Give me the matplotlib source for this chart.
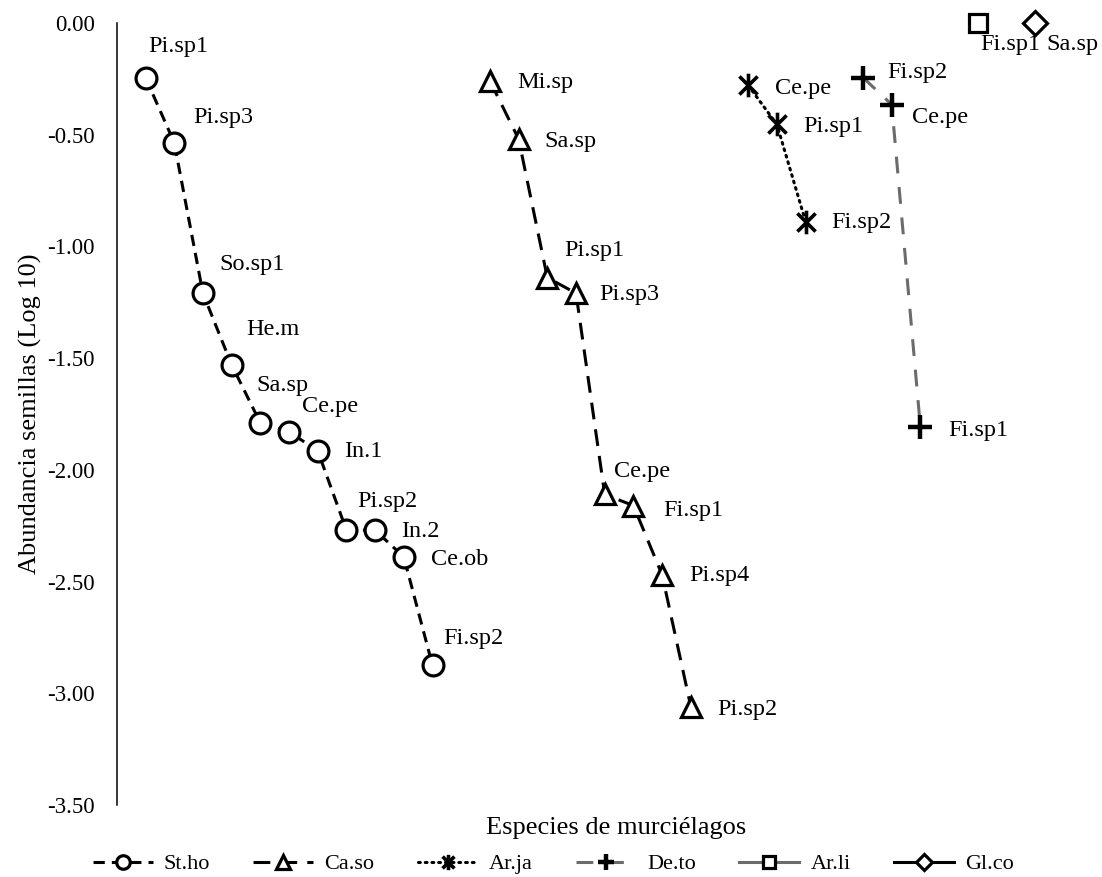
import numpy as np
import matplotlib
matplotlib.use('Agg')
import matplotlib.pyplot as plt
from matplotlib.path import Path

plt.rcParams['font.family'] = ['Liberation Serif', 'DejaVu Serif']
plt.rcParams['axes.unicode_minus'] = False

# datos: log10 de la abundancia de semillas por especie de murcielago
series = ['St.ho', 'Ca.so', 'Ar.ja', 'De.to', 'Ar.li', 'Gl.co']

stho_sp = ['Pi.sp1', 'Pi.sp3', 'So.sp1', 'He.m', 'Sa.sp', 'Ce.pe', 'In.1', 'Pi.sp2', 'In.2', 'Ce.ob', 'Fi.sp2']
stho_val = [-0.245, -0.536, -1.21, -1.53, -1.79, -1.83, -1.915, -2.27, -2.27, -2.39, -2.875]

caso_sp = ['Mi.sp', 'Sa.sp', 'Pi.sp1', 'Pi.sp3', 'Ce.pe', 'Fi.sp1', 'Pi.sp4', 'Pi.sp2']
caso_val = [-0.26, -0.52, -1.14, -1.21, -2.11, -2.16, -2.47, -3.06]

arja_sp = ['Ce.pe', 'Pi.sp1', 'Fi.sp2']
arja_val = [-0.28, -0.455, -0.89]

deto_sp = ['Fi.sp2', 'Ce.pe', 'Fi.sp1']
deto_val = [-0.245, -0.366, -1.81]

arli_sp = ['Fi.sp1']
arli_val = [0.0]

glco_sp = ['Sa.sp']
glco_val = [0.0]

# desplazamiento de cada etiqueta (pixeles: derecha, abajo)
stho_off = [(3, -31), (19, -25), (16, -29), (15, -35), (-4, -37), (13, -25), (26, 1), (11, -29), (26, 1), (27, 3), (11, -27)]
caso_off = [(27, 2), (26, 2), (17, -27), (23, 1), (9, -23), (30, 5), (27, 1), (26, 3)]
arja_off = [(27, 3), (26, 2), (26, 1)]
deto_off = [(24, -5), (20, 13), (28, 3)]
arli_off = [(2, 22)]
glco_off = [(11, 22)]

# marcador estrella (x con linea vertical) como en Excel
star = Path([(-1, -1), (1, 1), (-1, 1), (1, -1), (0, -1.3), (0, 1.3)],
            [Path.MOVETO, Path.LINETO, Path.MOVETO, Path.LINETO, Path.MOVETO, Path.LINETO])

gray = '#6b6b6b'
styles = [
    dict(color='black', ls=(0, (3.7, 2.3)), marker='o', ms=15, mew=2.3),
    dict(color='black', ls=(0, (5.5, 3.3)), marker='^', ms=15, mew=2.3),
    dict(color='black', ls=(0, (0.6, 1.6)), marker=star, ms=17, mew=2.6, cap='round'),
    dict(color=gray, ls=(0, (5.5, 4.5)), marker='+', ms=17, mew=3.2),
    dict(color=gray, ls='-', marker='s', ms=13, mew=2.3),
    dict(color='black', ls='-', marker='D', ms=12, mew=2.3),
]

all_sp = [stho_sp, caso_sp, arja_sp, deto_sp, arli_sp, glco_sp]
all_val = [stho_val, caso_val, arja_val, deto_val, arli_val, glco_val]
all_off = [stho_off, caso_off, arja_off, deto_off, arli_off, glco_off]

fig = plt.figure(figsize=(11.02, 8.77), dpi=100)
ax = fig.add_axes([0.106, 0.082, 0.8855, 0.892])

pos = 1
for name, sp, val, off, st in zip(series, all_sp, all_val, all_off, styles):
    x = np.arange(pos, pos + len(val))
    pos += len(val) + 1
    ax.plot(x, val, color=st['color'], linestyle=st['ls'], lw=2.2,
            marker=st['marker'], ms=st['ms'], mfc='white', mec='black', mew=st['mew'],
            dash_capstyle=st.get('cap', 'butt'), label=name, clip_on=False, zorder=3)
    for xi, yi, s, (dx, dy) in zip(x, val, sp, off):
        ax.annotate(s, (xi, yi), xytext=(dx, -dy), textcoords='offset pixels',
                    ha='left', va='center', fontsize=17.5)

ax.set_xlim(0, 34)
ax.set_ylim(-3.5, 0)
ax.set_yticks(np.arange(-3.5, 0.01, 0.5))
ax.yaxis.set_major_formatter(matplotlib.ticker.FormatStrFormatter('%.2f'))
ax.set_xticks([])
ax.tick_params(axis='y', length=0, pad=16, labelsize=16.5)
for s in ['top', 'right', 'bottom']:
    ax.spines[s].set_visible(False)
ax.spines['left'].set_linewidth(1.1)

ax.set_xlabel('Especies de murciélagos', fontsize=19)
ax.xaxis.set_label_coords(0.512, -0.029)
ax.xaxis.label.set_va('center')
ax.set_ylabel('Abundancia semillas (Log 10)', fontsize=19)
ax.yaxis.set_label_coords(-0.088, 0.5)
ax.yaxis.label.set_va('center')

fig.legend(loc='center', bbox_to_anchor=(0.502, 1 - 864 / 877), ncol=6, frameon=False,
           fontsize=16, markerscale=0.65, handlelength=2.7, handletextpad=0.5,
           columnspacing=1.95, borderpad=0)

fig.savefig('out.png', dpi=100)
